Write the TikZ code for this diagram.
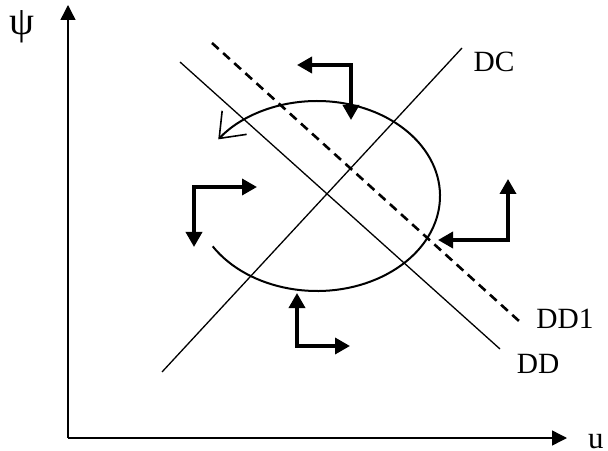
\documentclass[tikz,border=0pt]{standalone}
\usepackage{fontspec}
\setmainfont{Liberation Serif}
\usetikzlibrary{arrows.meta}

\tikzset{
  axis/.style={line width=1.4bp, -{Triangle[length=15bp,width=15bp]}},
  locus/.style={line width=1.3bp},
  shifted/.style={line width=2.6bp, dash pattern=on 9bp off 6bp},
  push/.style={line width=3.5bp, {Triangle[length=15bp,width=16bp]}-{Triangle[length=15bp,width=16bp]}},
  cycle/.style={line width=2bp, -{Straight Barb[length=22bp,width=34bp,line width=1.6bp]}},
  lbl/.style={anchor=base, inner sep=0pt, font=\fontsize{29.5}{34}\selectfont},
}

\begin{document}
\begin{tikzpicture}[x=1bp, y=-1bp]
			\useasboundingbox (0,0) rectangle (608,451);
			
			\coordinate (o) at (68,438);
			\coordinate (ytop) at (68,5);
			\coordinate (xend) at (567,438);
			\node[lbl, font=\fontsize{40}{44}\selectfont] (psi) at (22,35) {ψ};
			\node[lbl, anchor=base west, font=\fontsize{31}{36}\selectfont] (u) at (588,448) {u};
			
			\coordinate (dc1) at (162,372);
			\coordinate (dc2) at (462,48);
			\coordinate (dd1) at (180,62);
			\coordinate (dd2) at (500,349);
			\coordinate (ds1) at (212,43);
			\coordinate (ds2) at (519,321);
			\node[lbl] (DC) at (494,72) {DC};
			\node[lbl] (DD) at (538,373) {DD};
			\node[lbl] (DD1) at (565,328) {DD1};
			
			\coordinate (ctr) at (317,196);
			
			% phase arrows: corner and two tips each
			\coordinate (ca) at (351,65);
			\coordinate (ca1) at (297,65);
			\coordinate (ca2) at (351,120);
			\coordinate (cb) at (194,187);
			\coordinate (cb1) at (257,187);
			\coordinate (cb2) at (194,247);
			\coordinate (cc) at (508,240);
			\coordinate (cc1) at (508,179);
			\coordinate (cc2) at (438,240);
			\coordinate (cd) at (297,346);
			\coordinate (cd1) at (297,293);
			\coordinate (cd2) at (350,346);
			
			\draw[axis] (o) to (ytop);
			\draw[axis] (o) to (xend);
			
			\draw[locus] (dc1) to (dc2);
			\draw[locus] (dd1) to (dd2);
			\draw[shifted] (ds1) to (ds2);
			
			\draw[cycle] (ctr) ++(148:123 and 95) arc[start angle=148, end angle=-143.4, x radius=123, y radius=95];
			
			\draw[push] (ca1) -- (ca) -- (ca2);
			\draw[push] (cb1) -- (cb) -- (cb2);
			\draw[push] (cc1) -- (cc) -- (cc2);
			\draw[push] (cd1) -- (cd) -- (cd2);
		\end{tikzpicture}
\end{document}
